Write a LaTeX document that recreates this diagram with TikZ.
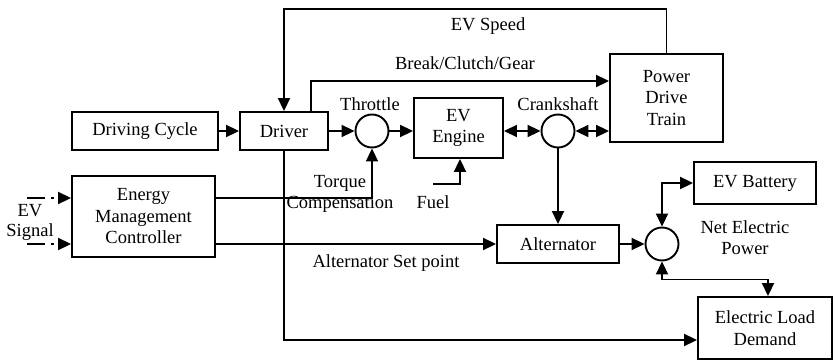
\documentclass[tikz,border=0pt]{standalone}
\usepackage{fontspec}
\setmainfont{Liberation Serif}
\usetikzlibrary{arrows.meta,calc}
\begin{document}
\begin{tikzpicture}[x=1pt,y=-1pt,
  every node/.style={font=\fontsize{18.5}{21.5}\selectfont, inner sep=0pt},
  blk/.style={draw, line width=1.9pt, align=center},
  sumc/.style={draw, circle, line width=1.9pt, minimum size=33pt},
  lbl/.style={align=center},
  arr/.style={line width=1.9pt, -{Triangle[length=13pt,width=12pt]}},
  darr/.style={line width=1.9pt, {Triangle[length=13pt,width=12pt]}-{Triangle[length=13pt,width=12pt]}},
  sig/.style={arr, dash pattern=on 18pt off 6pt on 3pt off 20pt}
]
\useasboundingbox (0,0) rectangle (833,361);
% blocks
\node[blk, minimum width=146pt, minimum height=38pt] (dc) at (145,131) {Driving Cycle};
\node[blk, minimum width=88pt, minimum height=38pt] (drv) at (284,131) {Driver};
\node[sumc] (thr) at (372,131) {};
\node[blk, minimum width=89pt, minimum height=60pt] (eng) at (458.5,128) {EV\\Engine};
\node[sumc] (crk) at (558,131) {};
\node[blk, minimum width=113pt, minimum height=88pt] (pdt) at (666.5,98) {Power\\Drive\\Train};
\node[blk, minimum width=143pt, minimum height=81pt] (emc) at (143.5,216.5) {Energy\\Management\\Controller};
\node[blk, minimum width=122pt, minimum height=38pt] (alt) at (558,244) {Alternator};
\node[sumc] (net) at (662,244) {};
\node[blk, minimum width=122pt, minimum height=42pt] (bat) at (755,183) {EV Battery};
\node[blk, minimum width=134pt, minimum height=62pt] (eld) at (765,328) {Electric Load\\Demand};
% coordinates
\coordinate (topc) at (475,9);
\coordinate (fuelc) at (433,184);
\coordinate (s1) at (27,198);
\coordinate (s2) at (27,244);
% connectors
\draw[arr] (dc) -- (drv);
\draw[arr] (drv) -- (thr);
\draw[arr] (thr) -- (thr -| eng.west);
\draw[darr] (crk -| eng.east) -- (crk);
\draw[darr] (crk) -- (crk -| pdt.west);
\draw[arr] ([xshift=27pt]drv.north) |- ([yshift=17pt]pdt.west);
\draw[arr] (pdt.north) |- (topc) -| (drv.north);
\draw[arr] (s1 -| emc.east) -| (thr.south);
\draw[arr] (emc.east |- alt) -- (alt);
\draw[arr] (fuelc) -| ([xshift=1.5pt]eng.south);
\draw[arr] (crk) -- (alt);
\draw[arr] (alt) -- (net);
\draw[darr] (net.north) |- (bat.west);
\draw[darr] (net.south) -- ++(0,18) -| ([xshift=3pt]eld.north);
\draw[arr] (drv.south) |- ([yshift=-12pt]eld.west);
\draw[sig] (s1) -- (s1 -| emc.west);
\draw[sig] (s2) -- (s2 -| emc.west);
% labels
\node[lbl] (l1) at (488,26) {EV Speed};
\node[lbl] (l2) at (465,63) {Break/Clutch/Gear};
\node[lbl] (l3) at (370,104) {Throttle};
\node[lbl] (l4) at (558,104) {Crankshaft};
\node[lbl] (l5) at (340,183) {Torque};
\node[lbl] (l6) at (340,204) {Compensation};
\node[lbl] (l7) at (433,202) {Fuel};
\node[lbl] (l8) at (386,263) {Alternator Set point};
\node[lbl] (l9) at (745,227) {Net Electric};
\node[lbl] (l10) at (745,249) {Power};
\node[lbl] (l11) at (30,211) {EV};
\node[lbl] (l12) at (30,232) {Signal};
\end{tikzpicture}
\end{document}
